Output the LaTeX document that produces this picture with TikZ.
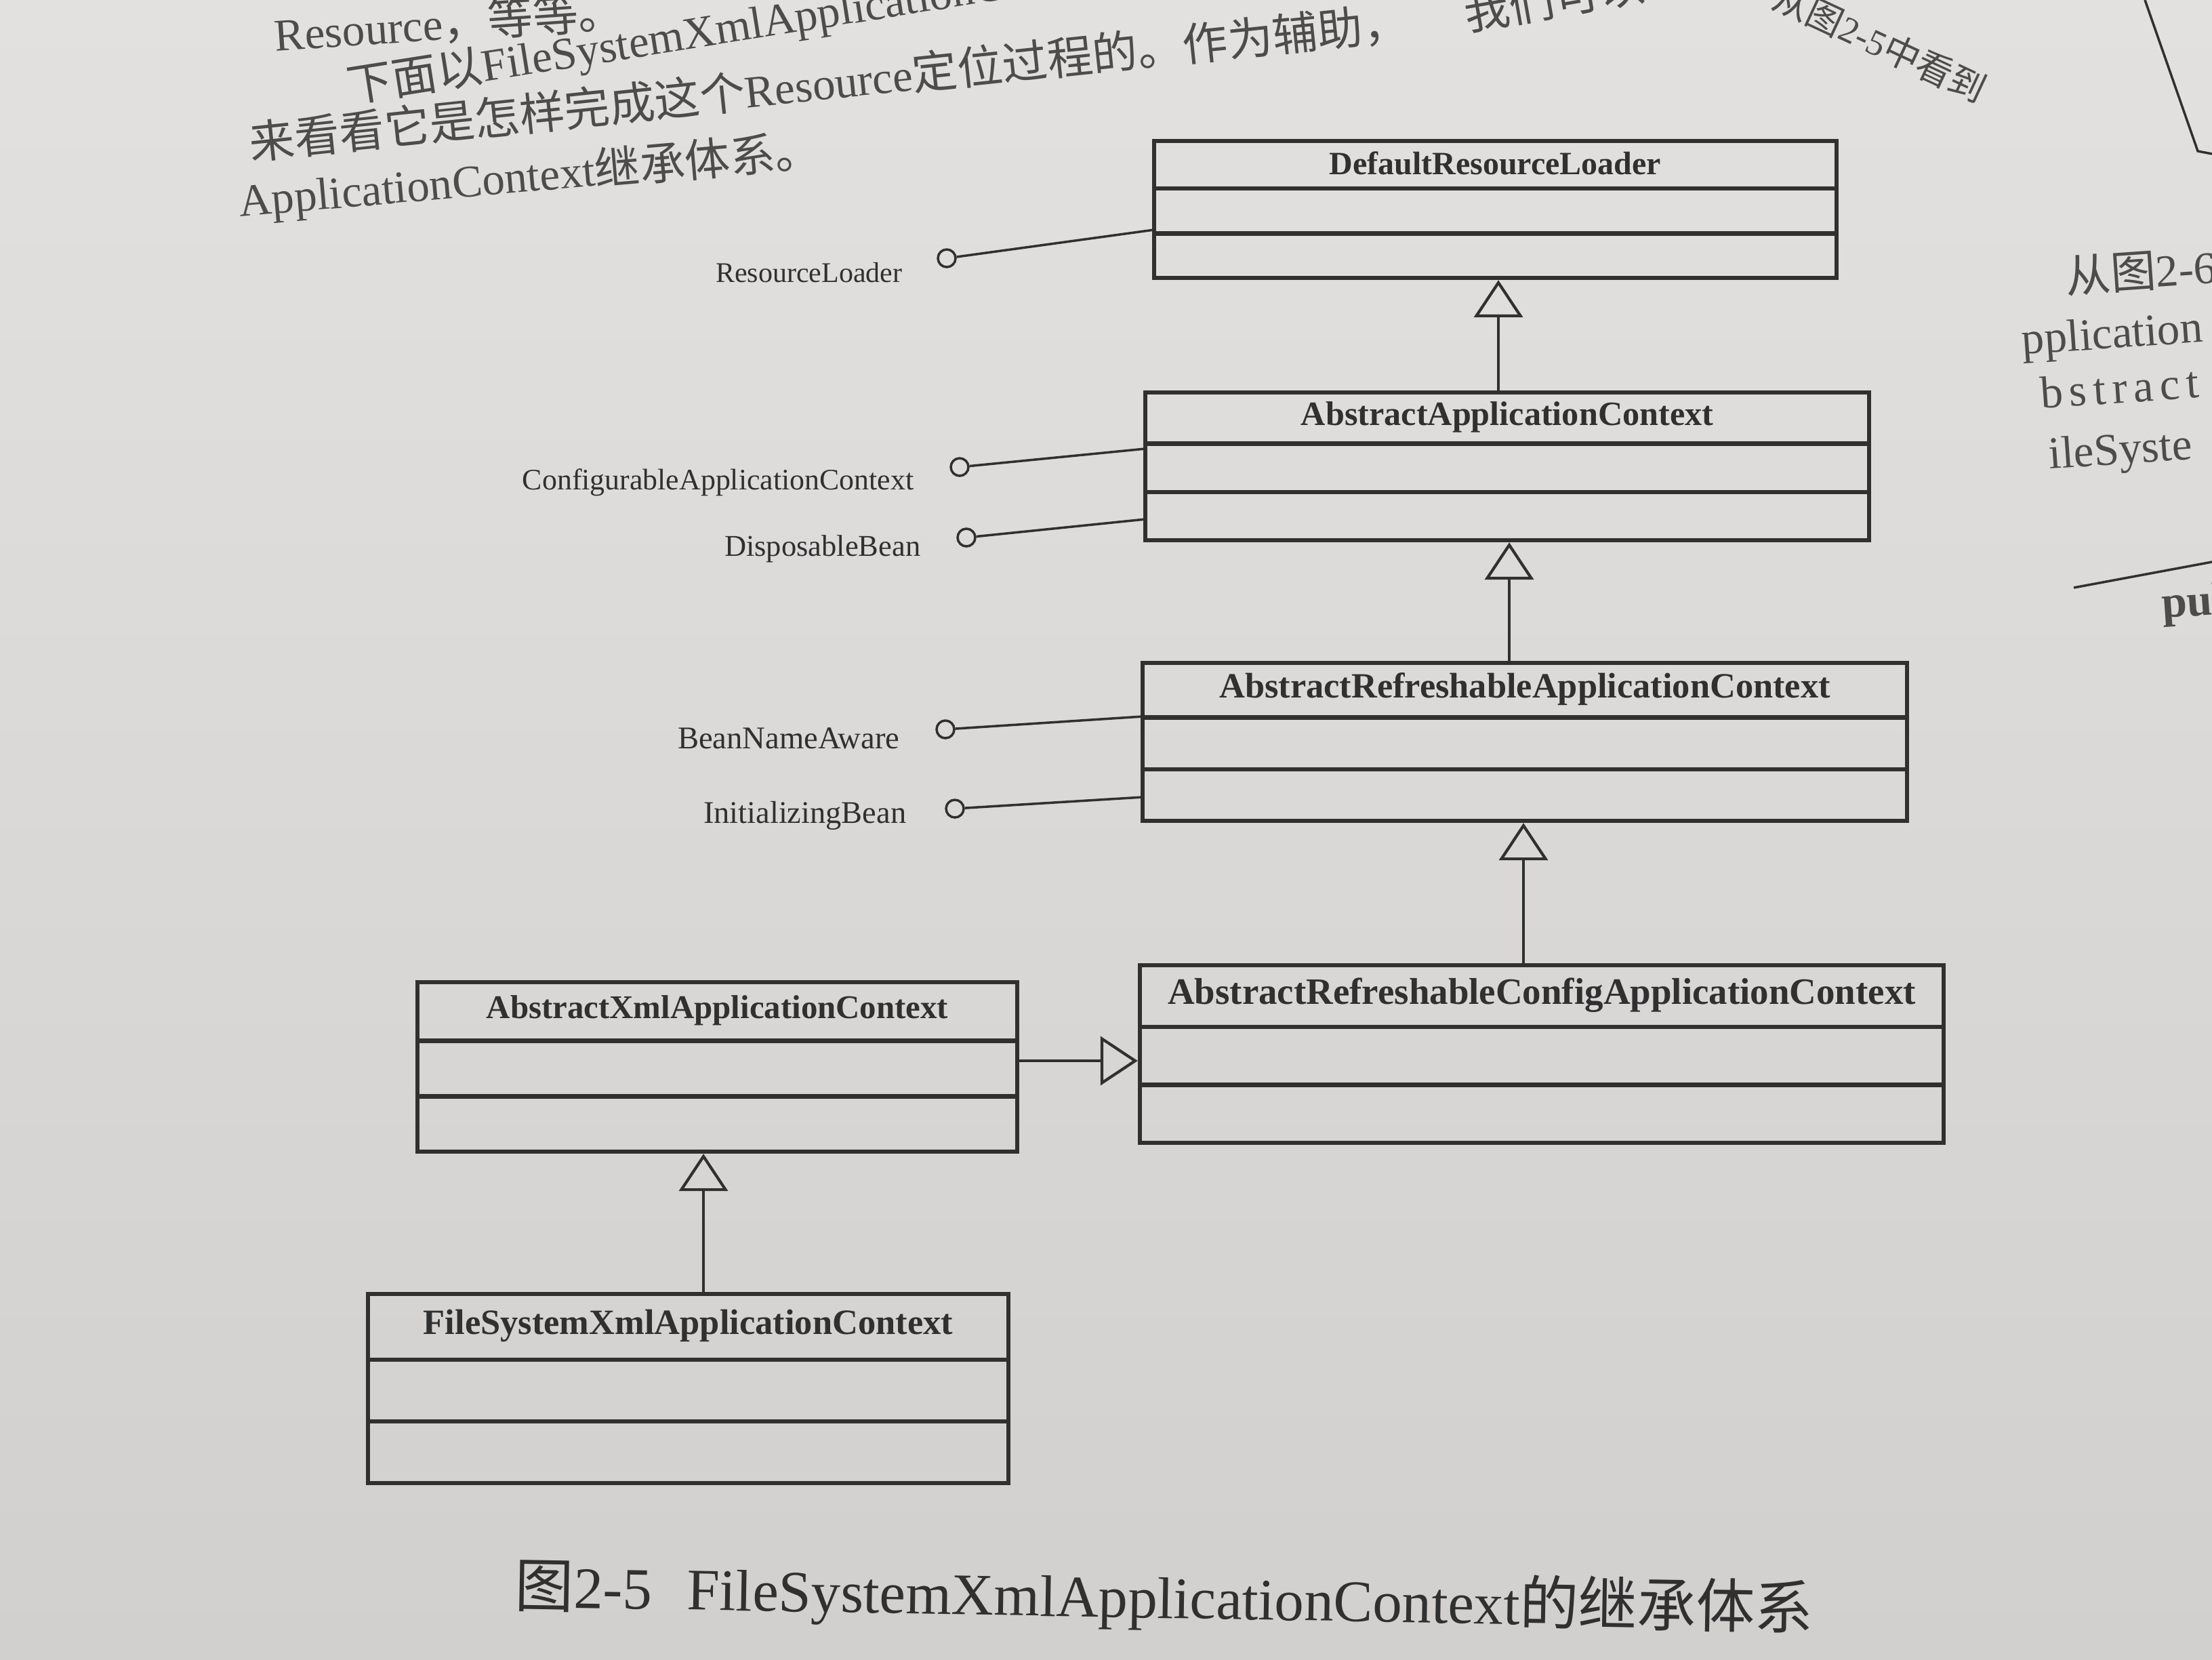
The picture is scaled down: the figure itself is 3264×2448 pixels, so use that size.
\documentclass[tikz,border=0pt]{standalone}
\usepackage{fontspec}
\setmainfont{Liberation Serif}
\newfontfamily\cjk{Noto Sans CJK SC}
\usetikzlibrary{arrows.meta,fit,calc}
\definecolor{paperA}{HTML}{E3E1E0}
\definecolor{paperB}{HTML}{D2D0CF}
\definecolor{ink}{HTML}{303030}
\definecolor{faint}{HTML}{4E4C4B}
\newcommand\fitw[2]{\resizebox{#1}{!}{#2}}
\newcommand\bodyfont{\fontsize{19}{23}\selectfont}
\tikzset{
  cls/.style={draw=ink, line width=1.8pt, inner sep=0pt},
  divline/.style={draw=ink, line width=1.8pt},
  conn/.style={draw=ink, line width=1pt},
  inh/.style={conn, -{Triangle[open, length=0.55cm, width=0.72cm, line width=1.2pt]}},
  iface/.style={circle, draw=ink, line width=1pt, minimum size=0.26cm, inner sep=0pt},
  ttl/.style={text=ink, inner sep=0pt, font=\bfseries},
  lbl/.style={text=ink, inner sep=0pt, anchor=east},
  book/.style={text=faint, inner sep=0pt, font=\bodyfont},
}
% name, x1, y1, x2, y2, title, title width
\newcommand\umlbox[7]{%
  \coordinate (#1-nw) at (#2,#3);
  \coordinate (#1-se) at (#4,#5);
  \node[cls, fit=(#1-nw)(#1-se)] (#1) {};
  \draw[divline] ($(#1.north west)!0.35!(#1.south west)$) -- ($(#1.north east)!0.35!(#1.south east)$);
  \draw[divline] ($(#1.north west)!0.67!(#1.south west)$) -- ($(#1.north east)!0.67!(#1.south east)$);
  \node[ttl] (#1-t) at ($(#1.north)!0.175!(#1.south)$) {\fitw{#7}{#6}};
}
\begin{document}
\begin{tikzpicture}[x=0.01cm,y=-0.01cm]
\useasboundingbox (0,0) rectangle (3264,2448);
\clip (0,0) rectangle (3264,2448);
\shade[top color=paperA, bottom color=paperB] (0,0) rectangle (3264,2448);

% ---- book text above the figure ----
\node[book, anchor=base west, rotate=4] (t1) at (406,76) {Resource{\cjk ，等等。}};
\node[book, anchor=base west, rotate=9] (t2) at (516,152) {{\cjk 下面以}FileSystemXmlApplicationContext{\cjk 为例，}};
\node[book, anchor=base west, rotate=6] (t3) at (370,236) {{\cjk 来看看它是怎样完成这个}Resource{\cjk 定位过程的。作为辅助，}};
\node[book, anchor=base west, rotate=10] (t3a) at (2165,46) {{\cjk 我们可以}};
\node[book, anchor=base west, rotate=-25, scale=0.8] (t3b) at (2612,10) {{\cjk 从图}2-5{\cjk 中看到}};
\node[book, anchor=base west, rotate=5] (t4) at (354,320) {ApplicationContext{\cjk 继承体系。}};

% ---- facing page at the right ----
\coordinate (pg1) at (3165,0);
\coordinate (pg2) at (3243,223);
\coordinate (pg3) at (3264,227);
\draw[conn] (pg1) -- (pg2) -- (pg3);
\node[book, anchor=west, rotate=4] (r1) at (3047,408) {{\cjk 从图}2-6};
\node[book, anchor=west, rotate=4] (r2) at (2983,507) {pplication};
\node[book, anchor=west, rotate=4] (r3) at (3010,580) {\addfontfeature{LetterSpace=14}bstract};
\node[book, anchor=west, rotate=4] (r4) at (3023,676) {ileSyste};
\coordinate (rl1) at (3060,867);
\coordinate (rl2) at (3264,829);
\draw[conn] (rl1) -- (rl2);
\node[book, anchor=west, rotate=4, font=\bodyfont\bfseries] (r5) at (3190,896) {pul};

% ---- class boxes ----
\umlbox{b1}{1703}{208}{2710}{410}{DefaultResourceLoader}{4.89cm}
\umlbox{b2}{1690}{579}{2758}{797}{AbstractApplicationContext}{6.08cm}
\umlbox{b3}{1686}{978}{2814}{1211}{AbstractRefreshableApplicationContext}{9.01cm}
\umlbox{b4}{1682}{1424}{2868}{1686}{AbstractRefreshableConfigApplicationContext}{11.03cm}
\umlbox{b5}{616}{1449}{1501}{1699}{AbstractXmlApplicationContext}{6.81cm}
\umlbox{b6}{543}{1909}{1488}{2188}{FileSystemXmlApplicationContext}{7.81cm}

% ---- interfaces (lollipops) ----
\node[iface] (i1) at (1397,381) {};
\coordinate (i1e) at (1703,339);
\draw[conn] (i1) -- (i1e);
\node[lbl] (i1l) at (1332,402) {\fitw{2.75cm}{ResourceLoader}};

\node[iface] (i2) at (1416,689) {};
\coordinate (i2e) at (1690,662);
\draw[conn] (i2) -- (i2e);
\node[lbl] (i2l) at (1349,712) {\fitw{5.77cm}{ConfigurableApplicationContext}};

\node[iface] (i3) at (1426,793) {};
\coordinate (i3e) at (1690,766);
\draw[conn] (i3) -- (i3e);
\node[lbl] (i3l) at (1359,810) {\fitw{2.89cm}{DisposableBean}};

\node[iface] (i4) at (1395,1076) {};
\coordinate (i4e) at (1686,1057);
\draw[conn] (i4) -- (i4e);
\node[lbl] (i4l) at (1328,1089) {\fitw{3.27cm}{BeanNameAware}};

\node[iface] (i5) at (1409,1193) {};
\coordinate (i5e) at (1686,1176);
\draw[conn] (i5) -- (i5e);
\node[lbl] (i5l) at (1338,1203) {\fitw{2.99cm}{InitializingBean}};

% ---- generalisations ----
\coordinate (g1) at (2211,0);
\coordinate (g2) at (2227,0);
\coordinate (g3) at (2248,0);
\coordinate (g4) at (1038,0);
\coordinate (g5) at (0,1565);
\draw[inh] (b2.north -| g1) -- (b1.south -| g1);
\draw[inh] (b3.north -| g2) -- (b2.south -| g2);
\draw[inh] (b4.north -| g3) -- (b3.south -| g3);
\draw[inh] (b6.north -| g4) -- (b5.south -| g4);
\draw[inh] (b5.east |- g5) -- (b4.west |- g5);

% ---- caption ----
\node[text=ink, inner sep=0pt, rotate=-1] (cap) at (1718,2360)
  {\fitw{19.15cm}{{\cjk 图}2-5\hspace{0.6em}FileSystemXmlApplicationContext{\cjk 的继承体系}}};
\end{tikzpicture}
\end{document}
